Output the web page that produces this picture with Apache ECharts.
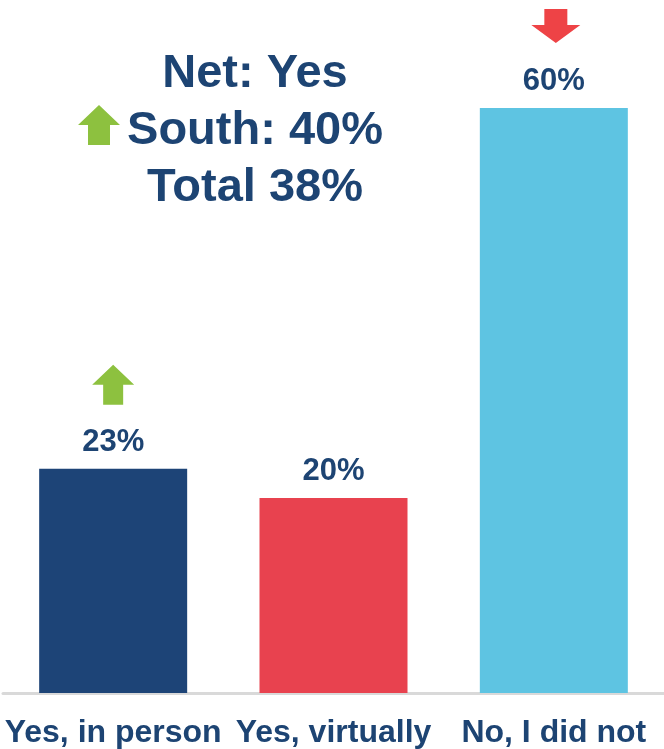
<!DOCTYPE html>
<html>
<head>
<meta charset="utf-8">
<script src="https://cdn.jsdelivr.net/npm/echarts@6/dist/echarts.min.js"></script>
<style>
  html, body { margin: 0; padding: 0; background: #fff; }
  #chart { width: 664px; height: 749px; }
</style>
</head>
<body>
<div id="chart"></div>
<script>
// Attendance responses
const categories = ['Yes, in person', 'Yes, virtually', 'No, I did not'];
const values = [23, 20, 60];
const barColors = ['#1d4477', '#e8424f', '#5ec4e2'];

// Change indicators placed above selected bars: [category index, direction]
const changeMarks = [[0, 'up'], [2, 'down']];

// Summary block text
const summaryLines = ['Net: Yes', 'South: 40%', 'Total 38%'];

const navy = '#1d4473';
const green = '#8dc13f';
const red = '#ee4346';
const font = '"Liberation Sans", Arial, sans-serif';

const upArrow = 'path://M21,0 L42,20 L31,20 L31,40 L11,40 L11,20 L0,20 Z';
const downArrow = 'path://M13,0 L36,0 L36,16 L49,16 L24.5,34 L0,16 L13,16 Z';

const chart = echarts.init(document.getElementById('chart'), null, { renderer: 'canvas' });

chart.setOption({
  animation: false,
  grid: { left: 3, right: 0, top: 108, bottom: 56, containLabel: false },
  xAxis: {
    type: 'category',
    data: categories,
    axisTick: { show: false },
    axisLine: { lineStyle: { color: '#d9d9d9', width: 3 } },
    axisLabel: {
      color: navy,
      fontFamily: font,
      fontWeight: 'bold',
      fontSize: 32,
      margin: 24,
      interval: 0
    }
  },
  yAxis: {
    type: 'value',
    min: 0,
    max: 60,
    show: false,
    splitLine: { show: false }
  },
  series: [
    {
      type: 'bar',
      barWidth: 148,
      data: values.map((v, i) => ({ value: v, itemStyle: { color: barColors[i] } })),
      label: {
        show: true,
        position: 'top',
        distance: 11,
        formatter: '{c}%',
        color: navy,
        fontFamily: font,
        fontWeight: 'bold',
        fontSize: 31
      }
    },
    {
      type: 'scatter',
      silent: true,
      clip: false,
      data: changeMarks.map(([idx, dir]) => ({
        value: [idx, values[idx]],
        symbol: dir === 'up' ? upArrow : downArrow,
        symbolSize: dir === 'up' ? [42, 40] : [49, 34],
        symbolOffset: dir === 'up' ? [0, -84] : [2, -82],
        itemStyle: { color: dir === 'up' ? green : red, opacity: 1 }
      }))
    }
  ],
  graphic: [
    {
      type: 'group',
      children: summaryLines.map((t, i) => ({
        type: 'text',
        x: 255,
        y: 74 + i * 57,
        style: {
          text: t,
          fill: navy,
          font: 'bold 47px ' + font,
          textAlign: 'center',
          textVerticalAlign: 'middle'
        }
      })).concat([
        {
          type: 'polygon',
          shape: { points: [[99, 105], [120, 125], [110, 125], [110, 145], [88, 145], [88, 125], [78, 125]] },
          style: { fill: green }
        }
      ])
    }
  ]
});
</script>
</body>
</html>
